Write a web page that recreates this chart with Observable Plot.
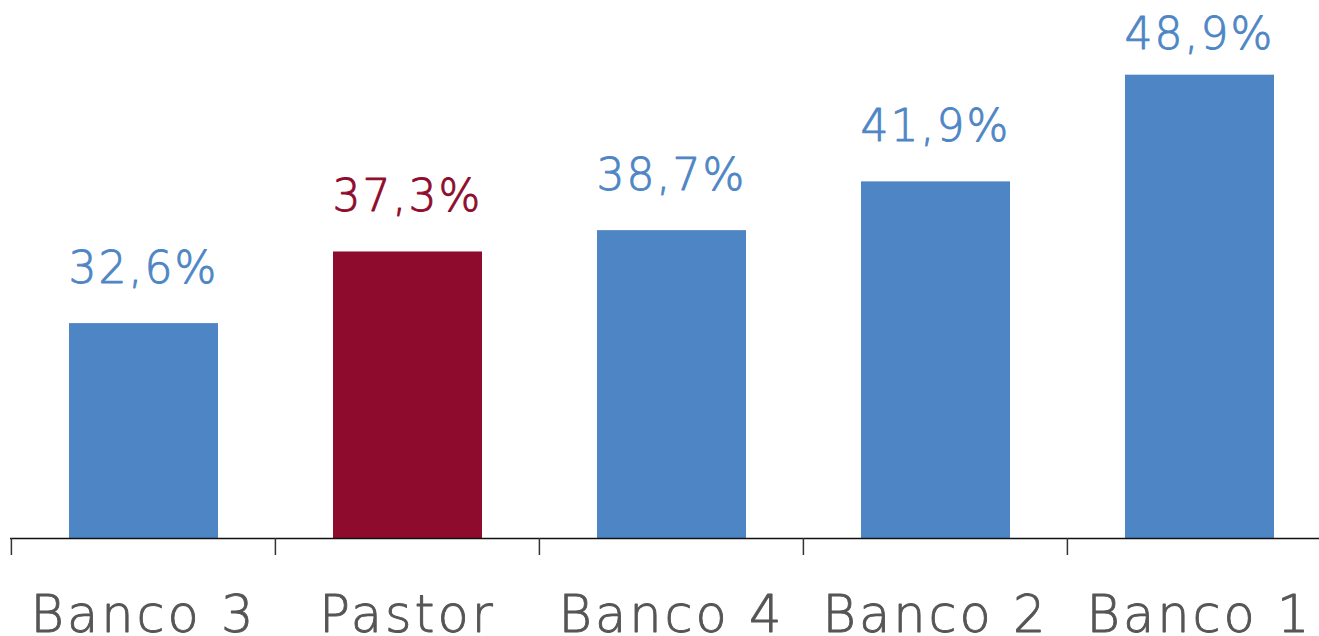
<!DOCTYPE html>
<html>
<head>
<meta charset="utf-8">
<script src="https://cdn.jsdelivr.net/npm/d3@7"></script>
<script src="https://cdn.jsdelivr.net/npm/@observablehq/plot@0.6"></script>
<style>
  html, body { margin: 0; padding: 0; background: #fff; }
  #chart svg { display: block; overflow: hidden; }
  .cat text, text.cat { letter-spacing: 3px; }
  .val text, text.val { letter-spacing: 2px; }
</style>
</head>
<body>
<div id="chart"></div>
<script>
const categories = ["Banco 3", "Pastor", "Banco 4", "Banco 2", "Banco 1"];
const values = [32.6, 37.3, 38.7, 41.9, 48.9];
const highlight = ["Pastor"];
const labels = ["32,6%", "37,3%", "38,7%", "41,9%", "48,9%"];

const yMin = 18.5;
const yMax = 53.8;
const blue = "#4E86C5";
const red = "#8F0B2D";

const data = categories.map((c, i) => ({cat: c, value: values[i], label: labels[i], hl: highlight.includes(c)}));
const maxVal = d3.max(values);

const W = 1319, H = 636;
const step = (1331 - 10) / categories.length;

const plot = Plot.plot({
  width: W,
  height: H,
  marginTop: 0,
  marginBottom: 98,
  marginLeft: 10,
  marginRight: 0,
  style: {background: "#fff", fontFamily: "DejaVu Sans"},
  x: {domain: categories, range: [10, 1331], padding: 0, axis: null},
  y: {domain: [yMin, yMax], axis: null},
  marks: [
    Plot.barY(data, {
      x: "cat", y1: () => yMin, y2: "value",
      fill: d => d.hl ? red : blue,
      insetLeft: 58, insetRight: 57
    }),
    Plot.ruleY([yMin], {stroke: "#111", strokeWidth: 1.5}),
    Plot.tickX(categories, {
      x: d => d, dx: -step / 2, stroke: "#333", strokeWidth: 1.5,
      insetTop: 521, dy: 17
    }),
    Plot.text(data.filter(d => d.value < maxVal), {
      x: "cat", y: "value", text: "label",
      fill: d => d.hl ? red : blue,
      stroke: d => d.hl ? red : blue, strokeWidth: 0.9,
      fontSize: 44, fontWeight: 300, lineAnchor: "bottom", dy: -41,
      className: "val"
    }),
    Plot.text(data.filter(d => d.value === maxVal), {
      x: "cat", y: "value", text: "label",
      fill: d => d.hl ? red : blue,
      stroke: d => d.hl ? red : blue, strokeWidth: 0.9,
      fontSize: 44, fontWeight: 300, lineAnchor: "bottom", dy: -26,
      className: "val"
    }),
    Plot.text(categories, {
      x: d => d, text: d => d, frameAnchor: "bottom",
      lineAnchor: "bottom", dy: 93,
      fill: "#555", stroke: "#555", strokeWidth: 0.9,
      fontSize: 51, fontWeight: 300, className: "cat"
    })
  ]
});

document.getElementById("chart").appendChild(plot);
</script>
</body>
</html>
